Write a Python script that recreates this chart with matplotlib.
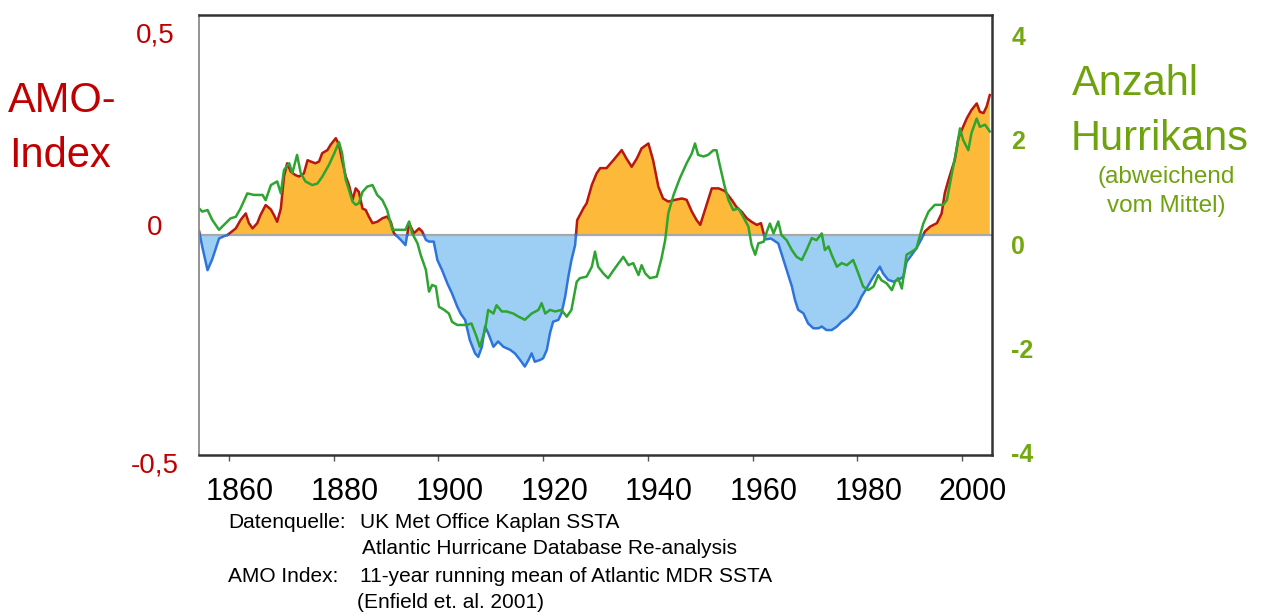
import numpy as np
import matplotlib
matplotlib.use("Agg")
import matplotlib.pyplot as plt
import matplotlib.transforms as mtransforms

plt.rcParams['font.family'] = ['Liberation Sans', 'DejaVu Sans']
NARROW = ['Liberation Sans Narrow', 'Liberation Sans', 'DejaVu Sans']

# AMO index (11-year running mean of Atlantic MDR SSTA)
amo_years = [1854.3, 1854.9, 1855.9, 1856.8, 1858.1, 1859.0, 1859.7, 1861.3, 1862.2, 1863.2,
             1863.8, 1864.5, 1865.4, 1866.0, 1867.0, 1868.0, 1868.6, 1869.2, 1869.9, 1870.5,
             1871.1, 1871.8, 1872.7, 1873.4, 1874.3, 1875.0, 1875.6, 1876.5, 1877.2, 1877.8,
             1878.8, 1879.4, 1880.4, 1881.0, 1881.6, 1882.3, 1882.9, 1883.6, 1884.2, 1884.8,
             1885.5, 1886.1, 1886.7, 1887.4, 1888.3, 1889.3, 1890.2, 1890.9, 1891.5, 1892.8,
             1893.7, 1894.4, 1895.3, 1896.3, 1896.9, 1897.6, 1898.2, 1899.1, 1899.8, 1900.7,
             1901.7, 1902.6, 1903.6, 1904.3, 1905.1, 1906.0, 1907.0, 1907.6, 1908.3, 1908.9,
             1909.5, 1910.5, 1911.4, 1912.4, 1913.7, 1914.6, 1915.6, 1916.5, 1917.2, 1917.8,
             1918.4, 1919.4, 1920.0, 1920.7, 1921.3, 1921.9, 1922.9, 1923.5, 1924.2, 1924.8,
             1925.4, 1926.1, 1926.5, 1927.0, 1927.7, 1928.3, 1929.3, 1930.2, 1930.9, 1932.1,
             1933.4, 1935.0, 1935.9, 1936.9, 1937.9, 1938.8, 1940.1, 1941.0, 1942.0, 1942.9,
             1943.9, 1945.2, 1946.5, 1947.4, 1948.4, 1949.3, 1950.0, 1950.9, 1952.2, 1953.5,
             1954.7, 1956.0, 1956.9, 1957.9, 1958.9, 1959.8, 1960.8, 1961.6, 1962.4, 1963.5,
             1964.9, 1965.9, 1966.5, 1967.5, 1968.1, 1968.7, 1969.7, 1970.6, 1971.6, 1972.6,
             1973.2, 1974.1, 1975.1, 1976.1, 1977.0, 1978.0, 1978.9, 1979.9, 1980.8, 1981.8,
             1982.7, 1983.7, 1984.3, 1984.9, 1985.9, 1986.9, 1987.8, 1988.8, 1989.4, 1990.4,
             1991.3, 1992.3, 1992.9, 1993.9, 1995.2, 1996.1, 1996.7, 1997.4, 1998.0, 1998.6,
             1999.3, 2000.2, 2000.9, 2001.8, 2002.8, 2003.4, 2004.1, 2004.7, 2005.3]
amo_values = [0.008, -0.027, -0.080, -0.055, -0.008, -0.003, 0.000, 0.015, 0.034, 0.049,
              0.027, 0.015, 0.027, 0.045, 0.068, 0.058, 0.045, 0.030, 0.060, 0.133,
              0.163, 0.144, 0.136, 0.133, 0.140, 0.170, 0.167, 0.163, 0.167, 0.186,
              0.193, 0.205, 0.220, 0.205, 0.170, 0.133, 0.114, 0.080, 0.106, 0.098,
              0.060, 0.057, 0.042, 0.027, 0.030, 0.038, 0.042, 0.030, 0.004, -0.011,
              -0.023, 0.027, 0.004, 0.015, 0.008, -0.011, -0.015, -0.015, -0.057, -0.080,
              -0.110, -0.133, -0.163, -0.180, -0.193, -0.239, -0.269, -0.277, -0.254, -0.208,
              -0.223, -0.254, -0.242, -0.254, -0.261, -0.269, -0.284, -0.299, -0.284, -0.269,
              -0.288, -0.284, -0.280, -0.261, -0.223, -0.197, -0.193, -0.178, -0.140, -0.095,
              -0.057, -0.023, 0.034, 0.045, 0.061, 0.072, 0.114, 0.140, 0.152, 0.152,
              0.170, 0.193, 0.174, 0.155, 0.174, 0.197, 0.208, 0.170, 0.110, 0.083,
              0.076, 0.080, 0.083, 0.080, 0.053, 0.034, 0.023, 0.057, 0.106, 0.106,
              0.100, 0.080, 0.064, 0.053, 0.038, 0.030, 0.023, 0.027, -0.010, -0.008,
              -0.019, -0.057, -0.080, -0.117, -0.148, -0.170, -0.178, -0.201, -0.212, -0.212,
              -0.208, -0.216, -0.216, -0.208, -0.197, -0.189, -0.178, -0.163, -0.140, -0.121,
              -0.102, -0.083, -0.072, -0.087, -0.102, -0.106, -0.102, -0.095, -0.061, -0.045,
              -0.030, -0.008, 0.008, 0.019, 0.027, 0.049, 0.095, 0.125, 0.148, 0.170,
              0.220, 0.246, 0.265, 0.284, 0.299, 0.280, 0.277, 0.292, 0.318]

# hurricane count, deviation from the mean
hur_years = [1854.3, 1854.9, 1855.9, 1856.8, 1858.1, 1859.0, 1860.3, 1861.3, 1862.2, 1863.5,
             1864.8, 1866.4, 1867.0, 1868.0, 1869.2, 1869.9, 1870.5, 1871.5, 1872.1, 1873.0,
             1873.7, 1874.6, 1875.9, 1876.9, 1877.8, 1879.1, 1880.1, 1881.0, 1881.6, 1882.3,
             1882.9, 1883.6, 1884.2, 1884.8, 1885.5, 1886.4, 1887.4, 1888.3, 1889.3, 1890.2,
             1891.2, 1892.5, 1893.7, 1894.4, 1895.0, 1896.0, 1896.6, 1897.6, 1898.2, 1898.8,
             1899.5, 1900.1, 1901.1, 1902.0, 1902.6, 1903.6, 1905.4, 1906.3, 1907.3, 1907.9,
             1908.9, 1909.5, 1910.5, 1911.1, 1912.1, 1913.0, 1914.3, 1915.3, 1916.5, 1917.8,
             1919.1, 1919.7, 1920.4, 1921.3, 1922.3, 1923.5, 1924.5, 1925.4, 1926.4, 1927.0,
             1928.3, 1929.3, 1929.9, 1930.5, 1931.5, 1932.4, 1933.7, 1935.3, 1936.3, 1937.2,
             1938.2, 1938.8, 1939.5, 1940.4, 1941.7, 1942.6, 1943.3, 1943.9, 1944.9, 1946.1,
             1947.4, 1948.4, 1949.0, 1949.6, 1950.6, 1951.5, 1952.5, 1953.1, 1953.8, 1954.7,
             1955.4, 1956.3, 1957.3, 1958.2, 1959.2, 1959.8, 1960.5, 1961.1, 1962.1, 1962.7,
             1963.3, 1964.0, 1964.9, 1965.5, 1966.5, 1967.5, 1968.4, 1969.4, 1970.3, 1971.3,
             1972.2, 1973.2, 1973.8, 1974.5, 1975.1, 1976.1, 1977.0, 1978.0, 1979.2, 1980.2,
             1981.1, 1982.1, 1983.1, 1984.0, 1984.6, 1985.6, 1986.6, 1987.2, 1987.8, 1988.5,
             1989.4, 1990.4, 1991.3, 1991.9, 1992.6, 1993.6, 1994.8, 1996.4, 1997.1, 1997.7,
             1998.3, 1999.0, 1999.6, 2000.2, 2001.2, 2001.8, 2002.8, 2003.4, 2004.4, 2005.3]
hur_values = [0.51, 0.45, 0.48, 0.29, 0.10, 0.19, 0.32, 0.35, 0.51, 0.80,
              0.77, 0.77, 0.67, 0.96, 1.03, 0.80, 1.25, 1.38, 1.19, 1.54,
              1.19, 1.03, 0.96, 0.99, 1.12, 1.35, 1.57, 1.79, 1.57, 1.06,
              0.87, 0.64, 0.58, 0.61, 0.83, 0.93, 0.96, 0.77, 0.67, 0.48,
              0.10, 0.10, 0.10, 0.26, 0.03, -0.16, -0.38, -0.67, -1.09, -0.96,
              -0.99, -1.38, -1.44, -1.51, -1.67, -1.73, -1.73, -1.70, -1.96, -2.15,
              -1.83, -1.44, -1.51, -1.35, -1.47, -1.47, -1.51, -1.57, -1.63, -1.51,
              -1.44, -1.31, -1.51, -1.44, -1.47, -1.44, -1.57, -1.44, -0.90, -0.83,
              -0.80, -0.61, -0.32, -0.61, -0.74, -0.83, -0.64, -0.42, -0.58, -0.54,
              -0.77, -0.58, -0.74, -0.83, -0.80, -0.45, -0.10, 0.42, 0.77, 1.09,
              1.38, 1.57, 1.76, 1.54, 1.51, 1.54, 1.63, 1.63, 1.31, 0.92,
              0.67, 0.48, 0.51, 0.35, 0.16, -0.19, -0.38, -0.16, -0.13, 0.06,
              0.22, 0.03, 0.26, 0.00, -0.10, -0.29, -0.42, -0.48, -0.29, -0.06,
              -0.10, 0.03, -0.29, -0.22, -0.38, -0.61, -0.54, -0.58, -0.48, -0.74,
              -0.99, -1.06, -0.99, -0.77, -0.87, -0.93, -1.06, -0.90, -0.83, -1.03,
              -0.38, -0.32, -0.26, -0.03, 0.22, 0.45, 0.58, 0.58, 0.67, 0.99,
              1.31, 1.67, 2.05, 1.83, 1.63, 1.96, 2.24, 2.08, 2.12, 1.99]

year_ticks = [1860, 1880, 1900, 1920, 1940, 1960, 1980, 2000]
hur_ticks = [4, 2, 0, -2, -4]

RED = '#C00000'
GREEN_TXT = '#6FA30E'

W, H = 1267, 616
fig = plt.figure(figsize=(W / 100, H / 100), dpi=100)


def px(x, y):
    return x / W, 1 - y / H


ax = fig.add_axes([199 / W, 1 - 455 / H, 793 / W, 440 / H])
ax2 = ax.twinx()

# split the AMO curve at its zero crossings so warm/cold parts get own colours
x = np.array(amo_years)
y = np.array(amo_values)
xs, ys = [x[0]], [y[0]]
for i in range(1, len(x)):
    if y[i - 1] * y[i] < 0:
        t = y[i - 1] / (y[i - 1] - y[i])
        xs.append(x[i - 1] + t * (x[i] - x[i - 1]))
        ys.append(0.0)
    xs.append(x[i])
    ys.append(y[i])
xs = np.array(xs)
ys = np.array(ys)

ax.fill_between(xs, 0, ys, where=ys >= 0, color='#FCB93A', lw=0, interpolate=True)
ax.fill_between(xs, 0, ys, where=ys <= 0, color='#9DCFF5', lw=0, interpolate=True)
ax.axhline(0, color='#A8A8A8', lw=1.6, zorder=2)
ax.plot(xs, np.where(ys >= 0, ys, np.nan), color='#B8180F', lw=1.8, zorder=3)
ax.plot(xs, np.where(ys <= 0, ys, np.nan), color='#2F74DA', lw=1.8, zorder=3)

ax2.plot(hur_years, hur_values, color='#2EA530', lw=1.8)

ax.set_xlim(1854.27, 2005.72)
ax.set_ylim(-0.5, 0.5)
ax2.set_ylim(-4.23, 4.23)

ax.set_yticks([])
ax.set_xticks(year_ticks, [str(v) for v in year_ticks])
ax.tick_params(axis='x', direction='out', length=4, width=1, color='#555555', pad=12,
               labelsize=22, labelcolor='black')
for lab in ax.get_xticklabels():
    lab.set_family(NARROW)
    lab.set_fontstretch('condensed')
    lab.set_transform(lab.get_transform() +
                      mtransforms.ScaledTranslation(11 / 100, 0, fig.dpi_scale_trans))

ax2.set_yticks(hur_ticks, [str(v) for v in hur_ticks])
ax2.tick_params(axis='y', length=0, pad=14, labelsize=18, labelcolor='#74A812')
for lab in ax2.get_yticklabels():
    lab.set_fontweight('bold')
    lab.set_transform(lab.get_transform() +
                      mtransforms.ScaledTranslation(0, -9 / 100, fig.dpi_scale_trans))

for sp in ['top', 'right', 'bottom']:
    ax2.spines[sp].set_color('#333333')
    ax2.spines[sp].set_linewidth(1.8)
ax2.spines['left'].set_color('#8A8A8A')
ax2.spines['left'].set_linewidth(1.3)
for sp in ax.spines.values():
    sp.set_visible(False)

# left scale labels
for lbl, yy in [('0,5', 42), ('0', 235), ('-0,5', 472)]:
    fig.text(*px(155, yy), lbl, color=RED, fontsize=20, ha='center', va='baseline')

fig.text(*px(8, 112), 'AMO-', color=RED, fontsize=30, ha='left', va='baseline')
fig.text(*px(9, 167), 'Index', color=RED, fontsize=30, ha='left', va='baseline')

fig.text(*px(1072, 95), 'Anzahl', color=GREEN_TXT, fontsize=30, ha='left', va='baseline')
fig.text(*px(1071, 150), 'Hurrikans', color=GREEN_TXT, fontsize=30, ha='left', va='baseline')
fig.text(*px(1166, 183), '(abweichend', color=GREEN_TXT, fontsize=17.5, ha='center', va='baseline')
fig.text(*px(1166, 212), 'vom Mittel)', color=GREEN_TXT, fontsize=17.5, ha='center', va='baseline')

# data source notes
notes = [
    (522, 'Datenquelle:', 'UK Met Office Kaplan SSTA', 360),
    (549, '', 'Atlantic Hurricane Database Re-analysis', 362),
    (576, 'AMO Index:', '11-year running mean of Atlantic MDR SSTA', 360),
    (602, '', '(Enfield et. al. 2001)', 357),
]
for yy, head, body, xb in notes:
    if head:
        fig.text(*px(228, yy), head, fontsize=15, family=NARROW, fontstretch='condensed',
                 ha='left', va='center')
    fig.text(*px(xb, yy), body, fontsize=15, family=NARROW, fontstretch='condensed',
             ha='left', va='center')

fig.savefig('out.png', dpi=100)
